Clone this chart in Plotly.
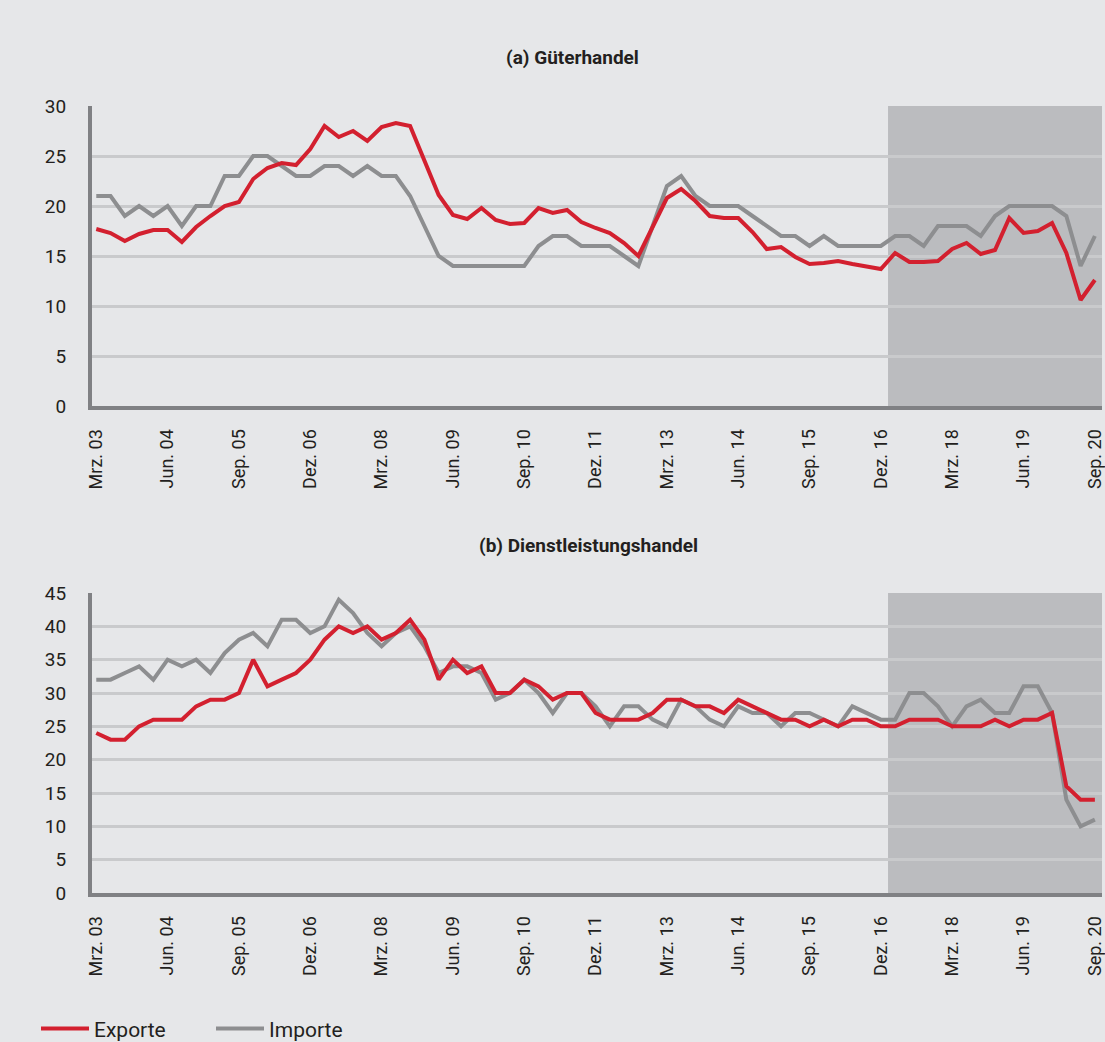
import plotly.graph_objects as go

# ---------------- data ----------------
months = ["Mrz.", "Jun.", "Sep.", "Dez."]
quarters = [f"{m} {str(y)[2:]}" for y in range(2003, 2021) for m in months][:71]
tick_labels = quarters[::5]

exports_goods = [17.7, 17.3, 16.5, 17.2, 17.6, 17.6, 16.4, 17.9, 19.0, 20.0,
                 20.4, 22.7, 23.8, 24.3, 24.1, 25.7, 28.0, 26.9, 27.5, 26.5,
                 27.9, 28.3, 28.0, 24.6, 21.1, 19.1, 18.7, 19.8, 18.6, 18.2,
                 18.3, 19.8, 19.3, 19.6, 18.4, 17.8, 17.3, 16.3, 15.0, 17.9,
                 20.8, 21.7, 20.5, 19.0, 18.8, 18.8, 17.4, 15.7, 15.9, 14.9,
                 14.2, 14.3, 14.5, 14.2, 14.0, 13.7, 15.3, 14.4, 14.4, 14.5,
                 15.7, 16.3, 15.2, 15.6, 18.8, 17.3, 17.5, 18.3, 15.3, 10.6,
                 12.6]
imports_goods = [21, 21, 19, 20, 19, 20, 18, 20, 20, 23,
                 23, 25, 25, 24, 23, 23, 24, 24, 23, 24,
                 23, 23, 21, 18, 15, 14, 14, 14, 14, 14,
                 14, 16, 17, 17, 16, 16, 16, 15, 14, 18,
                 22, 23, 21, 20, 20, 20, 19, 18, 17, 17,
                 16, 17, 16, 16, 16, 16, 17, 17, 16, 18,
                 18, 18, 17, 19, 20, 20, 20, 20, 19, 14,
                 17]
exports_services = [24, 23, 23, 25, 26, 26, 26, 28, 29, 29,
                    30, 35, 31, 32, 33, 35, 38, 40, 39, 40,
                    38, 39, 41, 38, 32, 35, 33, 34, 30, 30,
                    32, 31, 29, 30, 30, 27, 26, 26, 26, 27,
                    29, 29, 28, 28, 27, 29, 28, 27, 26, 26,
                    25, 26, 25, 26, 26, 25, 25, 26, 26, 26,
                    25, 25, 25, 26, 25, 26, 26, 27, 16, 14,
                    14]
imports_services = [32, 32, 33, 34, 32, 35, 34, 35, 33, 36,
                    38, 39, 37, 41, 41, 39, 40, 44, 42, 39,
                    37, 39, 40, 37, 33, 34, 34, 33, 29, 30,
                    32, 30, 27, 30, 30, 28, 25, 28, 28, 26,
                    25, 29, 28, 26, 25, 28, 27, 27, 25, 27,
                    27, 26, 25, 28, 27, 26, 26, 30, 30, 28,
                    25, 28, 29, 27, 27, 31, 31, 27, 14, 10,
                    11]

forecast_start = "Dez. 16"
titles = ["(a) Güterhandel", "(b) Dienstleistungshandel"]

# ---------------- style ----------------
RED = "#d3202f"
GREY = "#8d8e90"
BG = "#e6e7e9"
SHADE = "#bbbcbf"
GRID = "#c9cacc"
AXIS = "#808184"
TXT = "#231f20"
FONT = "Roboto, Arial, sans-serif"

W, H = 1105, 1042
fig = go.Figure()

def add_panel(xa, ya, exp, imp, legend):
    fig.add_trace(go.Scatter(x=quarters, y=imp, mode="lines", name="Importe",
                             line=dict(color=GREY, width=4), xaxis=xa, yaxis=ya,
                             showlegend=legend, legendrank=2))
    fig.add_trace(go.Scatter(x=quarters, y=exp, mode="lines", name="Exporte",
                             line=dict(color=RED, width=4), xaxis=xa, yaxis=ya,
                             showlegend=legend, legendrank=1))

add_panel("x", "y", exports_goods, imports_goods, True)
add_panel("x2", "y2", exports_services, imports_services, False)

x_dom = [92 / W, 1102 / W]
top_dom = [(H - 406) / H, (H - 106) / H]
bot_dom = [(H - 893) / H, (H - 593) / H]
start_idx = quarters.index(forecast_start) + 0.5
x_range = [-0.3, 70.5]

xcommon = dict(type="category", categoryorder="array", categoryarray=quarters,
               range=x_range, tickmode="array", tickvals=tick_labels,
               ticktext=tick_labels, tickangle=-90, showgrid=False,
               showline=True, linecolor=AXIS, linewidth=4, ticks="outside",
               ticklen=12, tickcolor="rgba(0,0,0,0)", automargin=False,
               tickfont=dict(family=FONT, size=18, color=TXT), zeroline=False)
ycommon = dict(showgrid=True, gridcolor=GRID, gridwidth=2.5, showline=True,
               linecolor=AXIS, linewidth=4, zeroline=False, ticks="outside",
               ticklen=18, tickcolor="rgba(0,0,0,0)", automargin=False,
               tickfont=dict(family=FONT, size=19, color=TXT))

fig.update_layout(
    width=W, height=H, paper_bgcolor=BG, plot_bgcolor=BG,
    margin=dict(l=0, r=0, t=0, b=0, autoexpand=False),
    xaxis=dict(domain=x_dom, anchor="y", **xcommon),
    yaxis=dict(domain=top_dom, anchor="x", range=[0, 30], dtick=5, **ycommon),
    xaxis2=dict(domain=x_dom, anchor="y2", **xcommon),
    yaxis2=dict(domain=bot_dom, anchor="x2", range=[0, 45], dtick=5, **ycommon),
    showlegend=True,
    legend=dict(orientation="h", x=36 / W, xanchor="left", y=-0.007,
                yanchor="bottom", bgcolor="rgba(0,0,0,0)",
                font=dict(family=FONT, size=21, color=TXT),
                traceorder="normal", itemwidth=48, entrywidth=112,
                entrywidthmode="pixels"),
    font=dict(family=FONT, color=TXT),
)

for xr, yr in (("x", "y"), ("x2", "y2")):
    fig.add_shape(type="rect", xref=xr, yref=f"{yr} domain", x0=start_idx,
                  x1=x_range[1], y0=0, y1=1, fillcolor=SHADE, line_width=0,
                  layer="below")

fig.add_annotation(text=f"<b>{titles[0]}</b>", xref="paper", yref="paper",
                   x=572 / W, y=(H - 58) / H, yanchor="middle", showarrow=False,
                   font=dict(family=FONT, size=19, color=TXT))
fig.add_annotation(text=f"<b>{titles[1]}</b>", xref="paper", yref="paper",
                   x=588 / W, y=(H - 545) / H, yanchor="middle", showarrow=False,
                   font=dict(family=FONT, size=19, color=TXT))

fig.write_html("out.html", config={"displayModeBar": False},
               post_script="document.body.style.margin='0';"
                           "document.body.style.overflow='hidden';")
